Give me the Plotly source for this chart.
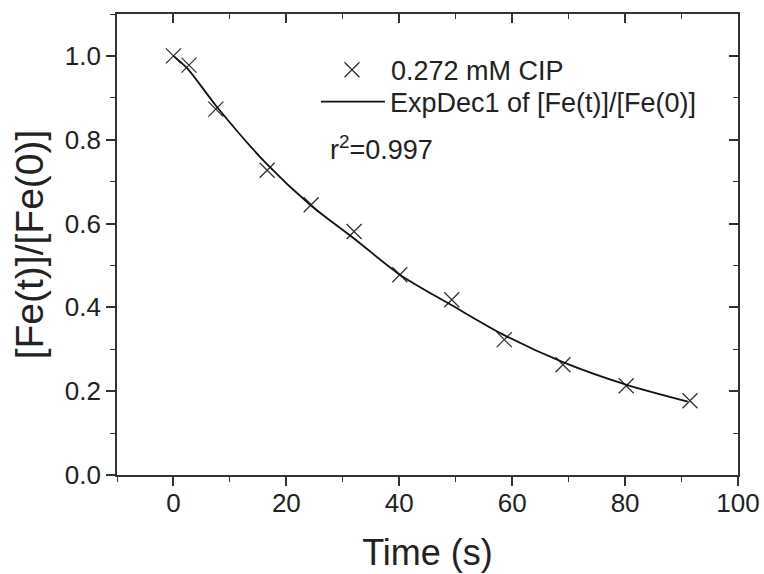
import plotly.graph_objects as go

# Measured data
time_s = [0, 2.75, 7.5, 16.6, 24.4, 32.0, 40.1, 49.3, 58.6, 69.0, 80.2, 91.5]
fe_ratio = [1.0, 0.978, 0.873, 0.727, 0.645, 0.581, 0.478, 0.418, 0.323, 0.263, 0.213, 0.177]

# ExpDec1 fit curve
fit_time = [0, 2.6, 7.6, 16.6, 24.2, 32.2, 40.1, 49.3, 58.4, 69.2, 80.3, 91.1]
fit_ratio = [1.0, 0.968, 0.880, 0.741, 0.645, 0.562, 0.478, 0.405, 0.335, 0.268, 0.215, 0.175]

x_range = [-10, 100]
y_range = [0, 1.1]

FONT = "Arial, Liberation Sans, Helvetica, sans-serif"
AX = "#333333"
TXT = "#222222"

fig = go.Figure()
fig.add_trace(go.Scatter(
    x=time_s, y=fe_ratio, mode="markers", name="0.272 mM CIP", legend="legend",
    marker=dict(symbol="x-thin", size=15, line=dict(width=1.3, color="#333333"), color="#333333"),
))
fig.add_trace(go.Scatter(
    x=fit_time, y=fit_ratio, mode="lines", name="ExpDec1 of [Fe(t)]/[Fe(0)]", legend="legend2",
    line=dict(color="#111111", width=1.8, shape="spline", smoothing=0.8),
))
# empty trace so the mirrored frame axes (top/right) get drawn
fig.add_trace(go.Scatter(x=[], y=[], xaxis="x2", yaxis="y2", showlegend=False, hoverinfo="skip"))

common = dict(showgrid=False, zeroline=False, showline=True, linecolor=AX, linewidth=1.6,
              tickcolor=AX, tickwidth=1.5, ticklen=9, automargin=False)
minor_out = dict(ticks="outside", ticklen=5, tickcolor=AX, tickwidth=1.3)
minor_in = dict(ticks="inside", ticklen=5, tickcolor=AX, tickwidth=1.3)

leg_common = dict(xanchor="left", yanchor="middle", font=dict(size=27, family=FONT, color=TXT),
                  bgcolor="rgba(0,0,0,0)", borderwidth=0)

fig.update_layout(
    width=764, height=574,
    margin=dict(l=117, r=26, t=14, b=99),
    paper_bgcolor="white", plot_bgcolor="white",
    font=dict(family=FONT, color=TXT),
    showlegend=True,
    legend=dict(x=0.3156, y=0.878, itemwidth=68, **leg_common),
    legend2=dict(x=0.3205, y=0.809, itemwidth=64, **leg_common),
    xaxis=dict(range=x_range, dtick=20, tick0=0, ticks="outside", ticklabelstandoff=-5,
               tickfont=dict(size=26), title=dict(text="Time (s)", font=dict(size=36), standoff=23),
               minor=dict(dtick=10, tick0=0, **minor_out), **common),
    yaxis=dict(range=y_range, dtick=0.2, tick0=0, ticks="outside", tickformat=".1f",
               ticklabelstandoff=0,
               tickfont=dict(size=26), title=dict(text="[Fe(t)]/[Fe(0)]", font=dict(size=39), standoff=9),
               minor=dict(dtick=0.1, tick0=0, **minor_out), **common),
    xaxis2=dict(range=x_range, overlaying="x", side="top", anchor="y2", dtick=20, tick0=0,
                ticks="inside", showticklabels=False,
                minor=dict(dtick=10, tick0=0, **minor_in), **common),
    yaxis2=dict(range=y_range, overlaying="y", side="right", anchor="x2", dtick=0.2, tick0=0,
                ticks="inside", showticklabels=False,
                minor=dict(dtick=0.1, tick0=0, **minor_in), **common),
    annotations=[dict(text="r<sup>2</sup>=0.997", xref="paper", yref="paper", x=0.34, y=0.709,
                      xanchor="left", yanchor="middle", showarrow=False,
                      font=dict(size=27, family=FONT, color=TXT))],
)

fig.write_html("out.html", config={"displayModeBar": False},
               post_script="document.body.style.margin='0';")
